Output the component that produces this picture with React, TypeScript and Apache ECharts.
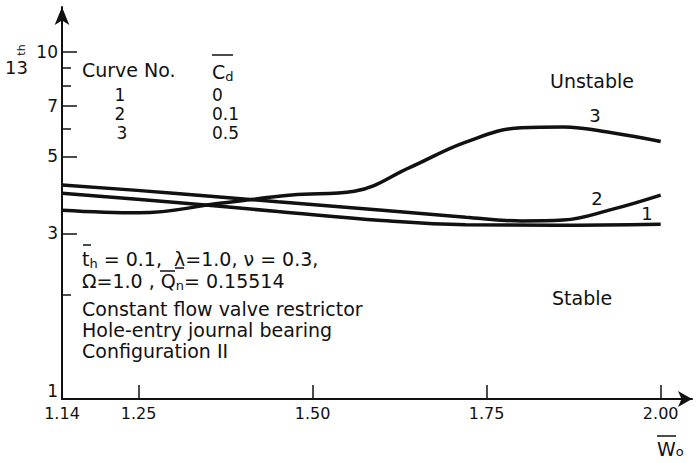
import React, { useEffect, useRef } from "react";
import * as echarts from "echarts";

// Data
const curve1W = [1.14, 1.30, 1.45, 1.60, 1.72, 1.85, 2.0];
const curve1B = [3.92, 3.69, 3.47, 3.27, 3.18, 3.17, 3.19];
const curve2W = [1.14, 1.30, 1.45, 1.60, 1.72, 1.80, 1.86, 1.93, 2.0];
const curve2B = [4.14, 3.92, 3.70, 3.50, 3.34, 3.26, 3.28, 3.52, 3.87];
const curve3W = [1.14, 1.25, 1.37, 1.47, 1.56, 1.64, 1.72, 1.80, 1.86, 1.93, 2.0];
const curve3B = [3.50, 3.44, 3.67, 3.87, 3.97, 4.65, 5.50, 6.05, 6.08, 5.85, 5.52];

const xTickValues = [1.25, 1.5, 1.75, 2.0];
const xLabelValues = [1.14, 1.25, 1.5, 1.75, 2.0];
const yLabelValues = [1, 3, 5, 7, 10];
const yMajorTicks = [3, 5, 7, 10];
const yMinorTicks = [2, 6, 8, 9];

const legendNos = ["1", "2", "3"];
const legendCd = ["0", "0.1", "0.5"];

const FONT = "DejaVu Sans";

const pairs = (xs: number[], ys: number[]) => xs.map((x, i) => [x, ys[i]]);

export default function App() {
  const ref = useRef<HTMLDivElement>(null);
  useEffect(() => {
    if (!ref.current) return;
    const chart = echarts.init(ref.current, undefined, { renderer: "svg" });
    const black = "#111";
    const lineSeries = (name: string, data: number[][]) => ({
      name,
      type: "line",
      data,
      smooth: 0.4,
      showSymbol: false,
      symbol: "none",
      lineStyle: { color: black, width: 3.5 },
      z: 3,
    });
    const t = (x: number, y: number, text: string, size = 20, align = "left", lh = size) => ({
      type: "text",
      x,
      y,
      style: { text, fontFamily: FONT, fontSize: size, lineHeight: lh, fill: black, align, verticalAlign: "middle" },
    });
    const bar = (x1: number, x2: number, y: number) => ({
      type: "line",
      shape: { x1, y1: y, x2, y2: y },
      style: { stroke: black, lineWidth: 1.5 },
    });
    const rows: any[] = [];
    const rowY = [95, 114, 133];
    const rowX = [120, 120, 122];
    legendNos.forEach((n, i) => {
      rows.push(t(rowX[i], rowY[i], n, 17, "center", 16));
      rows.push(t(212, rowY[i], legendCd[i], 17, "left", 16));
    });
    const rich = {
      n: { fontFamily: FONT, fontSize: 19, lineHeight: 20, fill: black },
      s: { fontFamily: FONT, fontSize: 13, lineHeight: 14, fill: black, padding: [8, 0, 0, 0] },
    };
    chart.setOption({
      animation: false,
      grid: { left: 62, right: 4, top: 7, bottom: 64, outerBoundsMode: "none", containLabel: false },
      xAxis: {
        type: "value",
        min: 1.14,
        max: 2.045,
        splitLine: { show: false },
        axisLine: { show: true, lineStyle: { color: black, width: 2 }, symbol: ["none", "arrow"], symbolSize: [12, 14] },
        axisTick: { show: true, inside: true, length: 14, lineStyle: { color: black, width: 1.5 }, customValues: xTickValues },
        axisLabel: {
          show: true,
          customValues: xLabelValues,
          formatter: (v: number) => v.toFixed(2),
          fontFamily: FONT,
          fontSize: 16,
          color: black,
          margin: 6,
        },
      },
      yAxis: [
        {
          type: "log",
          logBase: 10,
          min: 1,
          max: 13.48,
          splitLine: { show: false },
          axisLine: { show: true, lineStyle: { color: black, width: 2 }, symbol: ["none", "arrow"], symbolSize: [11, 18] },
          axisTick: { show: true, inside: true, length: 15, lineStyle: { color: black, width: 1.5 }, customValues: yMajorTicks },
          axisLabel: {
            show: true,
            customValues: yLabelValues,
            formatter: (v: number) => (Math.round(v) === 1 ? "{low|1}" : String(Math.round(v))),
            rich: { low: { fontFamily: FONT, fontSize: 17, color: black, padding: [0, 0, 16, 0] } },
            fontFamily: FONT,
            fontSize: 17,
            color: black,
            margin: 4,
          },
        },
        {
          type: "log",
          logBase: 10,
          min: 1,
          max: 13.48,
          position: "left",
          splitLine: { show: false },
          axisLine: { show: false },
          axisTick: { show: true, inside: true, length: 9, lineStyle: { color: black, width: 1.5 }, customValues: yMinorTicks },
          axisLabel: { show: false },
        },
      ],
      series: [
        lineSeries("1", pairs(curve1W, curve1B)),
        lineSeries("2", pairs(curve2W, curve2B)),
        lineSeries("3", pairs(curve3W, curve3B)),
      ],
      graphic: [
        t(5, 67, "13", 18),
        { type: "text", x: 21, y: 50, rotation: Math.PI / 2, style: { text: "th", fontFamily: FONT, fontSize: 11, fill: black, align: "center", verticalAlign: "middle" } },
        t(82, 70, "Curve No.", 19),
        { type: "text", x: 212, y: 72, style: { text: "{n|C}{s|d}", rich, fill: black, verticalAlign: "middle" } },
        bar(212, 233, 55),
        ...rows,
        { type: "text", x: 82, y: 259, style: { text: "{n|t}{s|h}{n| = 0.1,  λ=1.0, ν = 0.3,}", rich, verticalAlign: "middle" } },
        bar(83, 91, 245),
        bar(175, 184, 268),
        { type: "text", x: 82, y: 281, style: { text: "{n|Ω=1.0 , Q}{s|n}{n|= 0.15514}", rich, verticalAlign: "middle" } },
        bar(160, 175, 271),
        t(82, 309, "Constant flow valve restrictor", 19, "left", 19),
        t(82, 330, "Hole-entry journal bearing", 19, "left", 19),
        t(82, 351, "Configuration II", 19, "left", 19),
        t(550, 81, "Unstable", 19),
        t(552, 298, "Stable", 19),
        t(595, 115, "3", 18, "center"),
        t(597, 198, "2", 18, "center"),
        t(647, 213, "1", 18, "center"),
        { type: "text", x: 657, y: 449, style: { text: "{n|W}{s|o}", rich: { n: rich.n, s: { ...rich.s, padding: [4, 0, 0, 0] } }, verticalAlign: "middle" } },
        bar(657, 676, 436),
      ],
    });
    return () => chart.dispose();
  }, []);
  return <div ref={ref} style={{ position: "fixed", left: 0, top: 0, width: 696, height: 463, background: "#fff" }} />;
}
